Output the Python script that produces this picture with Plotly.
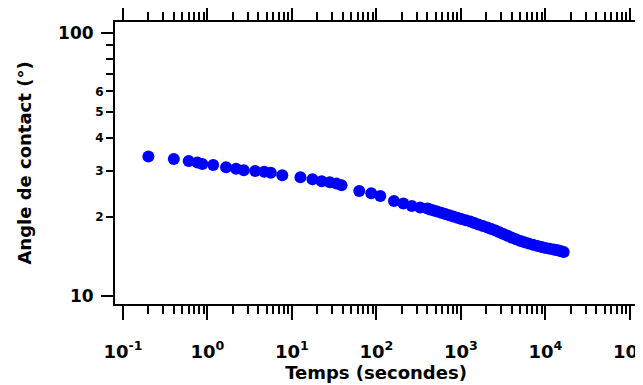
import plotly.graph_objects as go

# Data
temps = [0.20, 0.40, 0.60, 0.76, 0.87, 1.17, 1.66, 2.18, 2.69, 3.67, 4.70, 5.62, 7.68,
         12.6, 17.5, 22.5, 28.0, 33.6, 38.6, 62.5, 86.7, 111, 161, 208, 262, 329, 401,
         432, 475, 523, 585, 651, 727, 810, 905, 1009, 1140, 1290, 1440, 1606, 1820,
         2054, 2290, 2557, 2850, 3183, 3550, 3962, 4480, 5067, 5650, 6307, 7130, 8066,
         9000, 10040, 11200, 12498, 13400, 14330, 15350, 16430]
angle = [33.9, 33.2, 32.6, 32.2, 31.8, 31.5, 30.9, 30.5, 30.1, 29.9, 29.7, 29.4, 28.8,
         28.3, 27.8, 27.3, 27.1, 26.8, 26.4, 25.1, 24.6, 24.0, 23.0, 22.5, 22.0, 21.7, 21.5,
         21.32, 21.14, 20.96, 20.73, 20.50, 20.28, 20.06, 19.84, 19.62, 19.41, 19.20, 18.95,
         18.70, 18.46, 18.22, 17.98, 17.74, 17.47, 17.21, 16.95, 16.69, 16.44, 16.19, 16.01,
         15.84, 15.67, 15.50, 15.36, 15.22, 15.12, 15.03, 14.96, 14.89, 14.80, 14.70]

x_tickvals = [0.1, 1, 10, 100, 1000, 10000, 100000]
x_ticktext = ["10<sup>-1</sup>", "10<sup>0</sup>", "10<sup>1</sup>", "10<sup>2</sup>",
              "10<sup>3</sup>", "10<sup>4</sup>", "10<sup>5</sup>"]
x_minor = [m * 10.0 ** k for k in range(-1, 5) for m in range(2, 10)]

y_major_vals = [10, 100]
y_major_text = ["10", "100"]
y_minor_vals = [20, 30, 40, 50, 60, 70, 80, 90]
y_small_vals = [20, 30, 40, 50, 60]
y_small_text = ["2", "3", "4", "5", "6"]

FONT = "DejaVu Sans"

fig = go.Figure()
fig.add_trace(go.Scatter(
    x=temps, y=angle, mode="markers",
    marker=dict(color="#0000FF", size=12, line=dict(width=0)),
    showlegend=False,
))
# invisible copy on the overlay axis so its small tick labels are drawn
fig.add_trace(go.Scatter(
    x=temps, y=angle, mode="markers", yaxis="y2",
    marker=dict(color="#0000FF", size=12, opacity=0),
    showlegend=False, hoverinfo="skip",
))

fig.update_layout(
    width=643, height=385,
    margin=dict(l=107, r=14, t=14, b=89),
    paper_bgcolor="white", plot_bgcolor="white",
    font=dict(family=FONT, color="black", weight="bold"),
    xaxis=dict(
        type="log", range=[-1.094, 5.083], automargin=False,
        tickmode="array", tickvals=x_tickvals, ticktext=x_ticktext,
        ticks="outside", ticklen=14, tickwidth=2, tickcolor="black",
        showline=True, linewidth=2, linecolor="black", mirror="ticks",
        showgrid=False, zeroline=False,
        tickfont=dict(family=FONT, size=18, color="black", weight="bold"),
        ticklabelstandoff=16,
        minor=dict(tickmode="array", tickvals=x_minor, ticks="outside", ticklen=8,
                   tickwidth=2, tickcolor="black", showgrid=False),
        title=dict(text="Temps (secondes)", standoff=0,
                   font=dict(family=FONT, size=18, color="black", weight="bold")),
    ),
    yaxis=dict(
        type="log", range=[0.9696, 2.042], automargin=False,
        tickmode="array", tickvals=y_major_vals, ticktext=y_major_text,
        ticks="outside", ticklen=12, tickwidth=2, tickcolor="black",
        showline=True, linewidth=2, linecolor="black", mirror="ticks",
        showgrid=False, zeroline=False,
        tickfont=dict(family=FONT, size=17, color="black", weight="bold"),
        ticklabelstandoff=4,
        minor=dict(tickmode="array", tickvals=y_minor_vals, ticks="outside", ticklen=7,
                   tickwidth=2, tickcolor="black", showgrid=False),
        title=dict(text="Angle de contact (°)", standoff=22,
                   font=dict(family=FONT, size=18, color="black", weight="bold")),
    ),
    yaxis2=dict(
        type="log", range=[0.9696, 2.042], overlaying="y", side="left", anchor="x",
        automargin=False,
        tickmode="array", tickvals=y_small_vals, ticktext=y_small_text,
        ticks="outside", ticklen=7, tickwidth=2, tickcolor="black",
        showline=False, showgrid=False, zeroline=False,
        tickfont=dict(family=FONT, size=12, color="black", weight="bold"),
        ticklabelstandoff=1,
    ),
)

fig.write_html("out.html")
